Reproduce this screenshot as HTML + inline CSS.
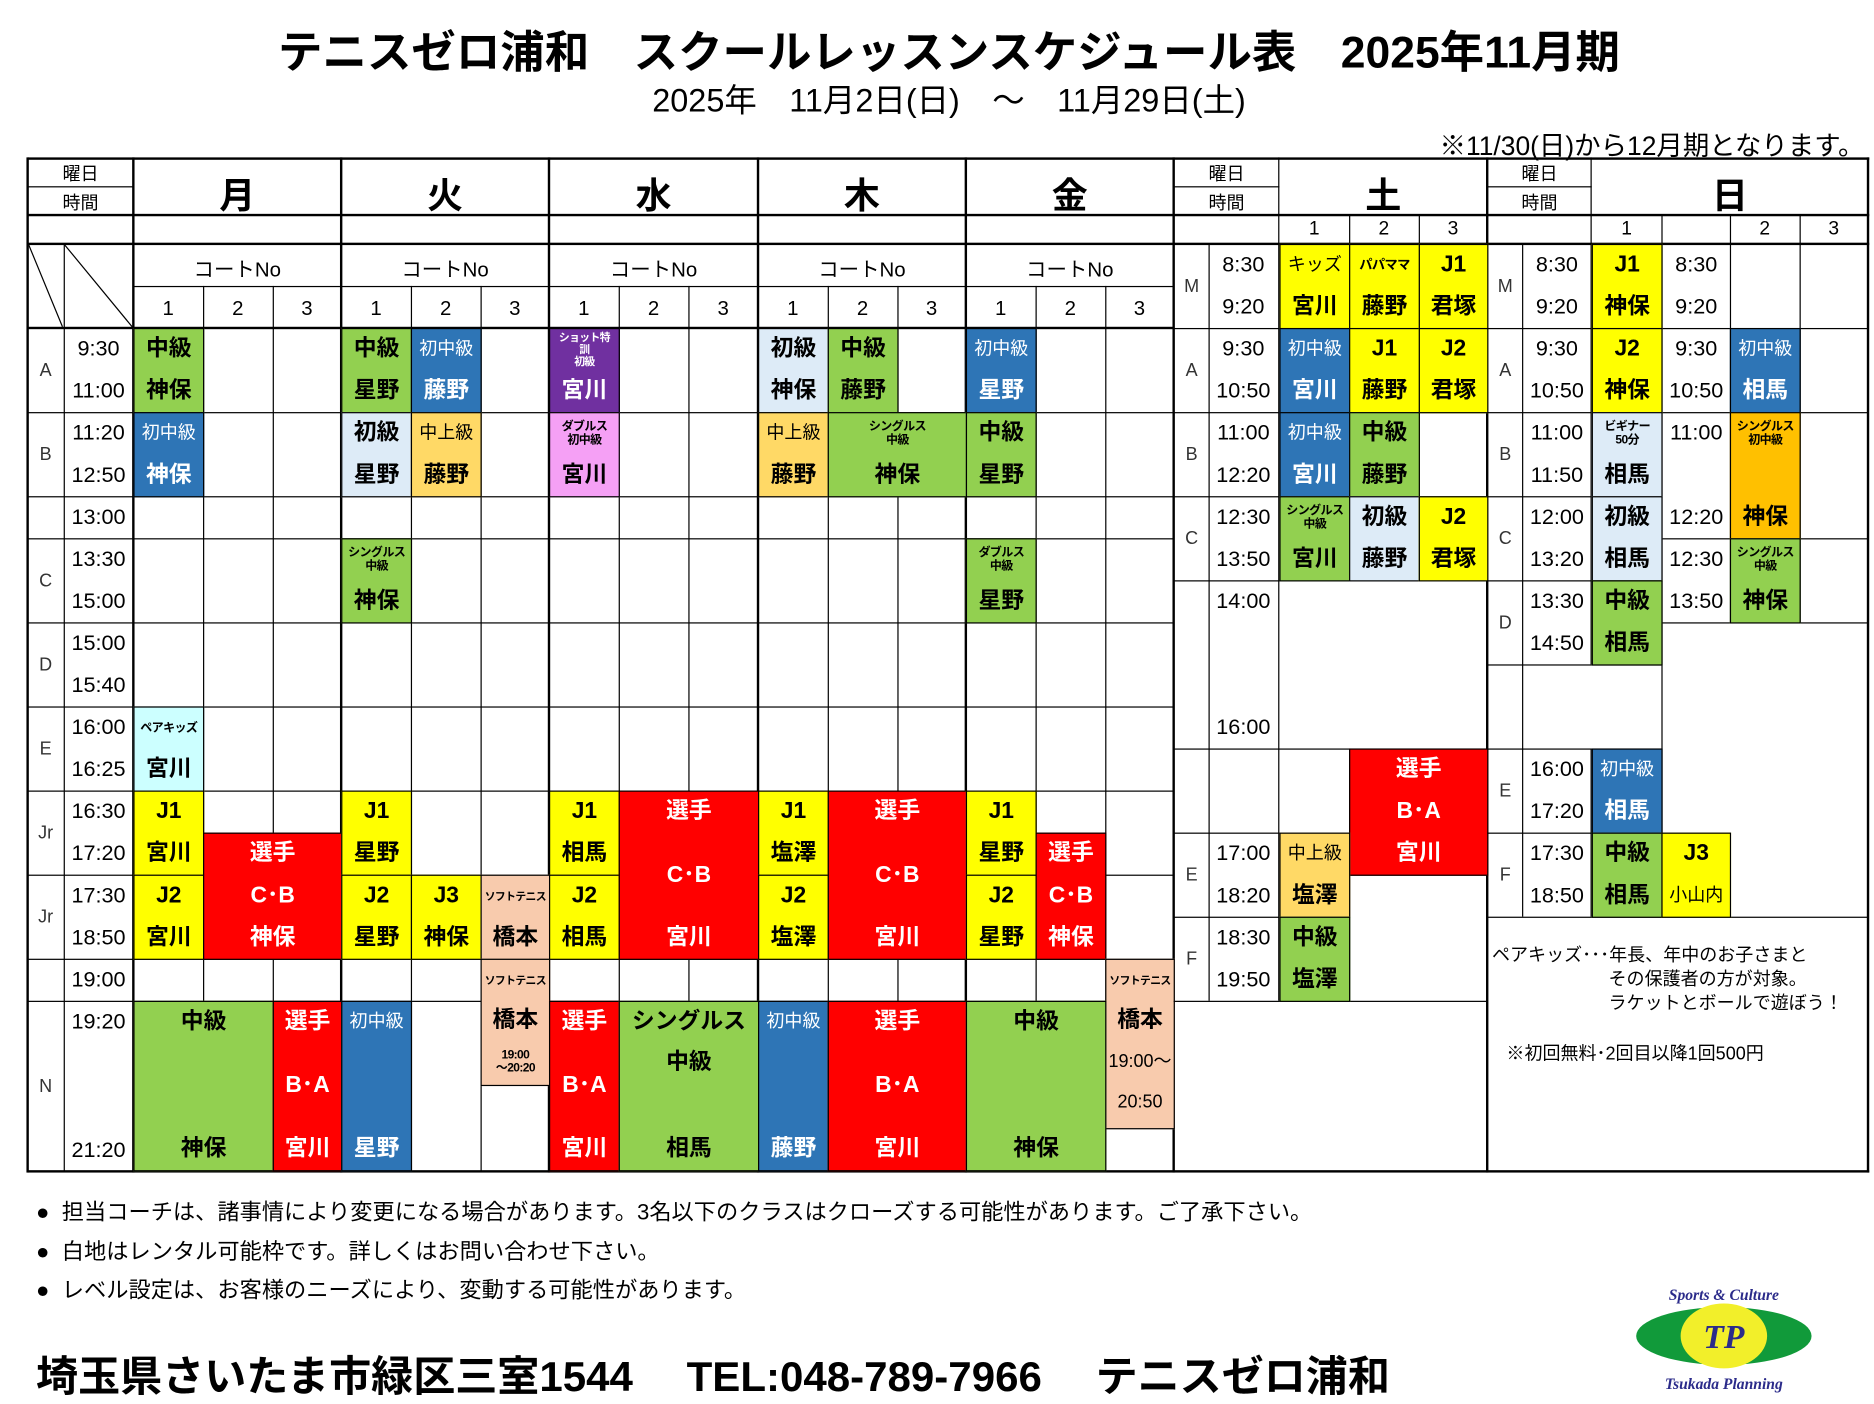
<!DOCTYPE html>
<html><head><meta charset="utf-8"><style>
*{margin:0;padding:0}
html,body{width:1874px;height:1390px;overflow:hidden;background:#fff}
#s{position:absolute;left:0;top:0;width:1560px;height:1157px;transform:scale(1.2013,1.2014);transform-origin:0 0;font-family:"Liberation Sans","Noto Sans CJK JP",sans-serif;color:#000}
.h{position:absolute;height:1px;background:#000}
.v{position:absolute;width:1px;background:#000}
.H{position:absolute;height:2px;background:#000}
.V{position:absolute;width:2px;background:#000}
.b{position:absolute;border:1px solid #000;box-sizing:border-box;display:flex;flex-direction:column;justify-content:space-between;align-items:center;font-weight:bold;font-size:19px;overflow:hidden}
.b p{height:34px;line-height:34px;white-space:nowrap}
.b p.s{font-size:10px;line-height:11px;display:flex;align-items:center;justify-content:center;text-align:center;font-weight:bold;letter-spacing:-0.5px}
.b p.m{font-size:15px;font-weight:normal}
.w{color:#fff}
.t{position:absolute;width:58px;height:35px;line-height:35px;text-align:center;font-size:18px}
.l{position:absolute;width:30px;text-align:center;font-size:15px;display:flex;align-items:center;justify-content:center;color:#333}
.x{position:absolute;text-align:center;white-space:nowrap}
</style></head><body><div id="s">

<div class="x" style="left:0;width:1580px;top:13px;font-size:37px;font-weight:bold;">テニスゼロ浦和　スクールレッスンスケジュール表　2025年11月期</div>
<div class="x" style="left:0;width:1580px;top:62px;font-size:27px;">2025年　11月2日(日)　～　11月29日(土)</div>
<div class="x" style="right:8px;top:104px;font-size:22px;">※11/30(日)から12月期となります。</div>

<!-- outer -->
<div class="H" style="left:23px;top:131px;width:1533px"></div>
<div class="H" style="left:23px;top:974px;width:1533px"></div>
<div class="V" style="left:22px;top:131px;height:845px"></div>
<div class="V" style="left:1554px;top:131px;height:845px"></div>
<div class="H" style="left:23px;top:178px;width:1533px"></div>
<div class="H" style="left:23px;top:202px;width:1533px"></div>
<div class="H" style="left:23px;top:272px;width:954px"></div>
<!-- day separators -->
<div class="V" style="left:110px;top:131px;height:845px"></div>
<div class="V" style="left:283px;top:131px;height:845px"></div>
<div class="V" style="left:456px;top:131px;height:845px"></div>
<div class="V" style="left:630px;top:131px;height:845px"></div>
<div class="V" style="left:803px;top:131px;height:845px"></div>
<div class="V" style="left:976px;top:131px;height:845px"></div>
<div class="V" style="left:1237px;top:131px;height:845px"></div>
<div class="v" style="left:1064px;top:131px;height:702px"></div>
<div class="v" style="left:1324px;top:131px;height:422px"></div>
<div class="v" style="left:1324px;top:623px;height:140px"></div>
<!-- 曜日 時間 -->
<div class="h" style="left:23px;top:155px;width:88px"></div>
<div class="h" style="left:977px;top:155px;width:88px"></div>
<div class="h" style="left:1238px;top:155px;width:87px"></div>
<div class="x" style="left:23px;width:88px;top:134px;font-size:15px">曜日</div>
<div class="x" style="left:23px;width:88px;top:158px;font-size:15px">時間</div>
<div class="x" style="left:977px;width:88px;top:134px;font-size:15px">曜日</div>
<div class="x" style="left:977px;width:88px;top:158px;font-size:15px">時間</div>
<div class="x" style="left:1238px;width:87px;top:134px;font-size:15px">曜日</div>
<div class="x" style="left:1238px;width:87px;top:158px;font-size:15px">時間</div>
<div class="x" style="left:111px;width:173px;top:138px;font-size:30px;font-weight:bold">月</div>
<div class="x" style="left:284px;width:173px;top:138px;font-size:30px;font-weight:bold">火</div>
<div class="x" style="left:457px;width:174px;top:138px;font-size:30px;font-weight:bold">水</div>
<div class="x" style="left:631px;width:173px;top:138px;font-size:30px;font-weight:bold">木</div>
<div class="x" style="left:804px;width:173px;top:138px;font-size:30px;font-weight:bold">金</div>
<div class="x" style="left:1065px;width:173px;top:138px;font-size:30px;font-weight:bold">土</div>
<div class="x" style="left:1325px;width:230px;top:138px;font-size:30px;font-weight:bold">日</div>

<!-- Mon-Fri header courts -->
<div class="h" style="left:111px;top:238px;width:866px"></div>
<div class="v" style="left:53px;top:203px;height:772px"></div>
<svg style="position:absolute;left:23px;top:203px" width="88" height="70"><line x1="1" y1="1" x2="29" y2="69" stroke="#000" stroke-width="1"/><line x1="31" y1="1" x2="87" y2="69" stroke="#000" stroke-width="1"/></svg>
<div class="x" style="left:111px;width:173px;top:210px;font-size:17px">コートNo</div>
<div class="x" style="left:284px;width:173px;top:210px;font-size:17px">コートNo</div>
<div class="x" style="left:457px;width:174px;top:210px;font-size:17px">コートNo</div>
<div class="x" style="left:631px;width:173px;top:210px;font-size:17px">コートNo</div>
<div class="x" style="left:804px;width:173px;top:210px;font-size:17px">コートNo</div>
<!-- court verticals -->
<div class="v" style="left:169px;top:238px;height:737px"></div>
<div class="v" style="left:227px;top:238px;height:737px"></div>
<div class="v" style="left:342px;top:238px;height:737px"></div>
<div class="v" style="left:400px;top:238px;height:737px"></div>
<div class="v" style="left:515px;top:238px;height:737px"></div>
<div class="v" style="left:573px;top:238px;height:737px"></div>
<div class="v" style="left:689px;top:238px;height:737px"></div>
<div class="v" style="left:747px;top:238px;height:737px"></div>
<div class="v" style="left:862px;top:238px;height:737px"></div>
<div class="v" style="left:920px;top:238px;height:737px"></div>
<div class="x" style="left:111px;width:58px;top:247px;font-size:17px">1</div>
<div class="x" style="left:169px;width:58px;top:247px;font-size:17px">2</div>
<div class="x" style="left:227px;width:57px;top:247px;font-size:17px">3</div>
<div class="x" style="left:284px;width:58px;top:247px;font-size:17px">1</div>
<div class="x" style="left:342px;width:58px;top:247px;font-size:17px">2</div>
<div class="x" style="left:400px;width:57px;top:247px;font-size:17px">3</div>
<div class="x" style="left:457px;width:58px;top:247px;font-size:17px">1</div>
<div class="x" style="left:515px;width:58px;top:247px;font-size:17px">2</div>
<div class="x" style="left:573px;width:58px;top:247px;font-size:17px">3</div>
<div class="x" style="left:631px;width:58px;top:247px;font-size:17px">1</div>
<div class="x" style="left:689px;width:58px;top:247px;font-size:17px">2</div>
<div class="x" style="left:747px;width:57px;top:247px;font-size:17px">3</div>
<div class="x" style="left:804px;width:58px;top:247px;font-size:17px">1</div>
<div class="x" style="left:862px;width:58px;top:247px;font-size:17px">2</div>
<div class="x" style="left:920px;width:57px;top:247px;font-size:17px">3</div>
<!-- Mon-Fri horizontals -->
<div class="h" style="left:23px;top:343px;width:954px"></div>
<div class="h" style="left:23px;top:413px;width:954px"></div>
<div class="h" style="left:23px;top:448px;width:954px"></div>
<div class="h" style="left:23px;top:518px;width:954px"></div>
<div class="h" style="left:23px;top:588px;width:954px"></div>
<div class="h" style="left:23px;top:658px;width:954px"></div>
<div class="h" style="left:23px;top:728px;width:954px"></div>
<div class="h" style="left:23px;top:798px;width:954px"></div>
<div class="h" style="left:23px;top:833px;width:954px"></div>

<!-- letters Mon-Fri -->
<div class="l" style="left:23px;top:273px;height:70px">A</div>
<div class="l" style="left:23px;top:343px;height:70px">B</div>
<div class="l" style="left:23px;top:448px;height:70px">C</div>
<div class="l" style="left:23px;top:518px;height:70px">D</div>
<div class="l" style="left:23px;top:588px;height:70px">E</div>
<div class="l" style="left:23px;top:658px;height:70px">Jr</div>
<div class="l" style="left:23px;top:728px;height:70px">Jr</div>
<div class="l" style="left:23px;top:833px;height:142px">N</div>
<!-- times Mon-Fri -->
<div class="t" style="left:53px;top:273px">9:30</div><div class="t" style="left:53px;top:308px">11:00</div>
<div class="t" style="left:53px;top:343px">11:20</div><div class="t" style="left:53px;top:378px">12:50</div>
<div class="t" style="left:53px;top:413px">13:00</div>
<div class="t" style="left:53px;top:448px">13:30</div><div class="t" style="left:53px;top:483px">15:00</div>
<div class="t" style="left:53px;top:518px">15:00</div><div class="t" style="left:53px;top:553px">15:40</div>
<div class="t" style="left:53px;top:588px">16:00</div><div class="t" style="left:53px;top:623px">16:25</div>
<div class="t" style="left:53px;top:658px">16:30</div><div class="t" style="left:53px;top:693px">17:20</div>
<div class="t" style="left:53px;top:728px">17:30</div><div class="t" style="left:53px;top:763px">18:50</div>
<div class="t" style="left:53px;top:798px">19:00</div>
<div class="t" style="left:53px;top:833px">19:20</div><div class="t" style="left:53px;top:940px">21:20</div>

<!-- Mon -->
<div class="b" style="left:111px;top:273px;width:59px;height:71px;background:#92d050"><p>中級</p><p>神保</p></div>
<div class="b w" style="left:111px;top:343px;width:59px;height:71px;background:#2e75b6"><p class="m">初中級</p><p>神保</p></div>
<div class="b" style="left:111px;top:588px;width:59px;height:71px;background:#ccffff"><p class="s">ペアキッズ</p><p>宮川</p></div>
<div class="b" style="left:111px;top:658px;width:59px;height:71px;background:#ffff00"><p>J1</p><p>宮川</p></div>
<div class="b" style="left:111px;top:728px;width:59px;height:71px;background:#ffff00"><p>J2</p><p>宮川</p></div>
<div class="b w" style="left:169px;top:693px;width:116px;height:106px;background:#ff0000"><p>選手</p><p>C･B</p><p>神保</p></div>
<div class="b" style="left:111px;top:833px;width:117px;height:142px;background:#92d050"><p>中級</p><p>神保</p></div>
<div class="b w" style="left:227px;top:833px;width:58px;height:142px;background:#ff0000"><p>選手</p><p>B･A</p><p>宮川</p></div>
<!-- Tue -->
<div class="b" style="left:284px;top:273px;width:59px;height:71px;background:#92d050"><p>中級</p><p>星野</p></div>
<div class="b w" style="left:342px;top:273px;width:59px;height:71px;background:#2e75b6"><p class="m">初中級</p><p>藤野</p></div>
<div class="b" style="left:284px;top:343px;width:59px;height:71px;background:#ddebf7"><p>初級</p><p>星野</p></div>
<div class="b" style="left:342px;top:343px;width:59px;height:71px;background:#ffd966"><p class="m">中上級</p><p>藤野</p></div>
<div class="b" style="left:284px;top:448px;width:59px;height:71px;background:#92d050"><p class="s">シングルス<br>中級</p><p>神保</p></div>
<div class="b" style="left:284px;top:658px;width:59px;height:71px;background:#ffff00"><p>J1</p><p>星野</p></div>
<div class="b" style="left:284px;top:728px;width:59px;height:71px;background:#ffff00"><p>J2</p><p>星野</p></div>
<div class="b" style="left:342px;top:728px;width:59px;height:71px;background:#ffff00"><p>J3</p><p>神保</p></div>
<div class="b" style="left:400px;top:728px;width:58px;height:71px;background:#f8cbad"><p class="s" style="font-size:9px">ソフトテニス</p><p>橋本</p></div>
<div class="b" style="left:400px;top:798px;width:58px;height:106px;background:#f8cbad;justify-content:flex-start"><p class="s" style="font-size:9px">ソフトテニス</p><p>橋本</p><p class="s">19:00<br>～20:20</p></div>
<div class="b w" style="left:284px;top:833px;width:59px;height:142px;background:#2e75b6"><p class="m">初中級</p><p>星野</p></div>
<!-- Wed -->
<div class="b w" style="left:457px;top:273px;width:59px;height:71px;background:#7030a0"><p class="s" style="font-size:9px;line-height:10px">ショット特<br>訓<br>初級</p><p>宮川</p></div>
<div class="b" style="left:457px;top:343px;width:59px;height:71px;background:#f5a0f5"><p class="s">ダブルス<br>初中級</p><p>宮川</p></div>
<div class="b" style="left:457px;top:658px;width:59px;height:71px;background:#ffff00"><p>J1</p><p>相馬</p></div>
<div class="b" style="left:457px;top:728px;width:59px;height:71px;background:#ffff00"><p>J2</p><p>相馬</p></div>
<div class="b w" style="left:515px;top:658px;width:117px;height:141px;background:#ff0000"><p>選手</p><p>C･B</p><p>宮川</p></div>
<div class="b w" style="left:457px;top:833px;width:59px;height:142px;background:#ff0000"><p>選手</p><p>B･A</p><p>宮川</p></div>
<div class="b" style="left:515px;top:833px;width:117px;height:142px;background:#92d050;justify-content:flex-start"><p>シングルス</p><p>中級</p><p style="margin-top:auto">相馬</p></div>
<!-- Thu -->
<div class="b" style="left:631px;top:273px;width:59px;height:71px;background:#ddebf7"><p>初級</p><p>神保</p></div>
<div class="b" style="left:689px;top:273px;width:59px;height:71px;background:#92d050"><p>中級</p><p>藤野</p></div>
<div class="b" style="left:631px;top:343px;width:59px;height:71px;background:#ffd966"><p class="m">中上級</p><p>藤野</p></div>
<div class="b" style="left:689px;top:343px;width:116px;height:71px;background:#92d050"><p class="s">シングルス<br>中級</p><p>神保</p></div>
<div class="b" style="left:631px;top:658px;width:59px;height:71px;background:#ffff00"><p>J1</p><p>塩澤</p></div>
<div class="b" style="left:631px;top:728px;width:59px;height:71px;background:#ffff00"><p>J2</p><p>塩澤</p></div>
<div class="b w" style="left:689px;top:658px;width:116px;height:141px;background:#ff0000"><p>選手</p><p>C･B</p><p>宮川</p></div>
<div class="b w" style="left:631px;top:833px;width:59px;height:142px;background:#2e75b6"><p class="m">初中級</p><p>藤野</p></div>
<div class="b w" style="left:689px;top:833px;width:116px;height:142px;background:#ff0000"><p>選手</p><p>B･A</p><p>宮川</p></div>
<!-- Fri -->
<div class="b w" style="left:804px;top:273px;width:59px;height:71px;background:#2e75b6"><p class="m">初中級</p><p>星野</p></div>
<div class="b" style="left:804px;top:343px;width:59px;height:71px;background:#92d050"><p>中級</p><p>星野</p></div>
<div class="b" style="left:804px;top:448px;width:59px;height:71px;background:#92d050"><p class="s">ダブルス<br>中級</p><p>星野</p></div>
<div class="b" style="left:804px;top:658px;width:59px;height:71px;background:#ffff00"><p>J1</p><p>星野</p></div>
<div class="b" style="left:804px;top:728px;width:59px;height:71px;background:#ffff00"><p>J2</p><p>星野</p></div>
<div class="b w" style="left:862px;top:693px;width:59px;height:106px;background:#ff0000"><p>選手</p><p>C･B</p><p>神保</p></div>
<div class="b" style="left:920px;top:798px;width:58px;height:142px;background:#f8cbad;justify-content:flex-start"><p class="s" style="font-size:9px">ソフトテニス</p><p>橋本</p><p class="m">19:00～</p><p class="m">20:50</p></div>
<div class="b" style="left:804px;top:833px;width:117px;height:142px;background:#92d050"><p>中級</p><p>神保</p></div>

<!-- Saturday grid -->
<div class="v" style="left:1006px;top:203px;height:630px"></div>
<div class="v" style="left:1123px;top:179px;height:304px"></div>
<div class="v" style="left:1123px;top:623px;height:210px"></div>
<div class="v" style="left:1181px;top:179px;height:304px"></div>
<div class="h" style="left:977px;top:273px;width:261px"></div>
<div class="h" style="left:977px;top:343px;width:261px"></div>
<div class="h" style="left:977px;top:413px;width:261px"></div>
<div class="h" style="left:977px;top:483px;width:261px"></div>
<div class="h" style="left:977px;top:623px;width:261px"></div>
<div class="h" style="left:977px;top:693px;width:146px"></div>
<div class="h" style="left:977px;top:763px;width:146px"></div>
<div class="h" style="left:977px;top:833px;width:261px"></div>
<div class="x" style="left:1065px;width:58px;top:182px;font-size:16px">1</div>
<div class="x" style="left:1123px;width:58px;top:182px;font-size:16px">2</div>
<div class="x" style="left:1181px;width:57px;top:182px;font-size:16px">3</div>
<div class="l" style="left:977px;top:203px;height:70px">M</div>
<div class="l" style="left:977px;top:273px;height:70px">A</div>
<div class="l" style="left:977px;top:343px;height:70px">B</div>
<div class="l" style="left:977px;top:413px;height:70px">C</div>
<div class="l" style="left:977px;top:693px;height:70px">E</div>
<div class="l" style="left:977px;top:763px;height:70px">F</div>
<div class="t" style="left:1006px;top:203px">8:30</div><div class="t" style="left:1006px;top:238px">9:20</div>
<div class="t" style="left:1006px;top:273px">9:30</div><div class="t" style="left:1006px;top:308px">10:50</div>
<div class="t" style="left:1006px;top:343px">11:00</div><div class="t" style="left:1006px;top:378px">12:20</div>
<div class="t" style="left:1006px;top:413px">12:30</div><div class="t" style="left:1006px;top:448px">13:50</div>
<div class="t" style="left:1006px;top:483px">14:00</div><div class="t" style="left:1006px;top:588px">16:00</div>
<div class="t" style="left:1006px;top:693px">17:00</div><div class="t" style="left:1006px;top:728px">18:20</div>
<div class="t" style="left:1006px;top:763px">18:30</div><div class="t" style="left:1006px;top:798px">19:50</div>
<div class="b" style="left:1065px;top:203px;width:59px;height:71px;background:#ffff00"><p class="m">キッズ</p><p>宮川</p></div>
<div class="b" style="left:1123px;top:203px;width:59px;height:71px;background:#ffff00"><p class="s" style="font-size:11px">パパママ</p><p>藤野</p></div>
<div class="b" style="left:1181px;top:203px;width:58px;height:71px;background:#ffff00"><p>J1</p><p>君塚</p></div>
<div class="b w" style="left:1065px;top:273px;width:59px;height:71px;background:#2e75b6"><p class="m">初中級</p><p>宮川</p></div>
<div class="b" style="left:1123px;top:273px;width:59px;height:71px;background:#ffff00"><p>J1</p><p>藤野</p></div>
<div class="b" style="left:1181px;top:273px;width:58px;height:71px;background:#ffff00"><p>J2</p><p>君塚</p></div>
<div class="b w" style="left:1065px;top:343px;width:59px;height:71px;background:#2e75b6"><p class="m">初中級</p><p>宮川</p></div>
<div class="b" style="left:1123px;top:343px;width:59px;height:71px;background:#92d050"><p>中級</p><p>藤野</p></div>
<div class="b" style="left:1065px;top:413px;width:59px;height:71px;background:#92d050"><p class="s">シングルス<br>中級</p><p>宮川</p></div>
<div class="b" style="left:1123px;top:413px;width:59px;height:71px;background:#ddebf7"><p>初級</p><p>藤野</p></div>
<div class="b" style="left:1181px;top:413px;width:58px;height:71px;background:#ffff00"><p>J2</p><p>君塚</p></div>
<div class="b w" style="left:1123px;top:623px;width:116px;height:106px;background:#ff0000"><p>選手</p><p>B･A</p><p>宮川</p></div>
<div class="b" style="left:1065px;top:693px;width:59px;height:71px;background:#ffd966"><p class="m">中上級</p><p>塩澤</p></div>
<div class="b" style="left:1065px;top:763px;width:59px;height:71px;background:#92d050"><p>中級</p><p>塩澤</p></div>

<!-- Sunday grid -->
<div class="v" style="left:1267px;top:203px;height:560px"></div>
<div class="v" style="left:1383px;top:179px;height:584px"></div>
<div class="v" style="left:1440px;top:179px;height:339px"></div>
<div class="v" style="left:1498px;top:179px;height:339px"></div>
<div class="h" style="left:1238px;top:273px;width:317px"></div>
<div class="h" style="left:1238px;top:343px;width:317px"></div>
<div class="h" style="left:1238px;top:413px;width:145px"></div>
<div class="h" style="left:1383px;top:448px;width:172px"></div>
<div class="h" style="left:1238px;top:483px;width:145px"></div>
<div class="h" style="left:1383px;top:518px;width:172px"></div>
<div class="h" style="left:1238px;top:553px;width:145px"></div>
<div class="h" style="left:1238px;top:623px;width:145px"></div>
<div class="h" style="left:1238px;top:693px;width:145px"></div>
<div class="h" style="left:1238px;top:763px;width:317px"></div>
<div class="x" style="left:1325px;width:58px;top:182px;font-size:16px">1</div>
<div class="x" style="left:1440px;width:58px;top:182px;font-size:16px">2</div>
<div class="x" style="left:1498px;width:57px;top:182px;font-size:16px">3</div>
<div class="l" style="left:1238px;top:203px;height:70px">M</div>
<div class="l" style="left:1238px;top:273px;height:70px">A</div>
<div class="l" style="left:1238px;top:343px;height:70px">B</div>
<div class="l" style="left:1238px;top:413px;height:70px">C</div>
<div class="l" style="left:1238px;top:483px;height:70px">D</div>
<div class="l" style="left:1238px;top:623px;height:70px">E</div>
<div class="l" style="left:1238px;top:693px;height:70px">F</div>
<div class="t" style="left:1267px;top:203px">8:30</div><div class="t" style="left:1267px;top:238px">9:20</div>
<div class="t" style="left:1267px;top:273px">9:30</div><div class="t" style="left:1267px;top:308px">10:50</div>
<div class="t" style="left:1267px;top:343px">11:00</div><div class="t" style="left:1267px;top:378px">11:50</div>
<div class="t" style="left:1267px;top:413px">12:00</div><div class="t" style="left:1267px;top:448px">13:20</div>
<div class="t" style="left:1267px;top:483px">13:30</div><div class="t" style="left:1267px;top:518px">14:50</div>
<div class="t" style="left:1267px;top:623px">16:00</div><div class="t" style="left:1267px;top:658px">17:20</div>
<div class="t" style="left:1267px;top:693px">17:30</div><div class="t" style="left:1267px;top:728px">18:50</div>
<div class="t" style="left:1383px;top:203px">8:30</div><div class="t" style="left:1383px;top:238px">9:20</div>
<div class="t" style="left:1383px;top:273px">9:30</div><div class="t" style="left:1383px;top:308px">10:50</div>
<div class="t" style="left:1383px;top:343px">11:00</div><div class="t" style="left:1383px;top:413px">12:20</div>
<div class="t" style="left:1383px;top:448px">12:30</div><div class="t" style="left:1383px;top:483px">13:50</div>
<div class="b" style="left:1325px;top:203px;width:59px;height:71px;background:#ffff00"><p>J1</p><p>神保</p></div>
<div class="b" style="left:1325px;top:273px;width:59px;height:71px;background:#ffff00"><p>J2</p><p>神保</p></div>
<div class="b w" style="left:1440px;top:273px;width:59px;height:71px;background:#2e75b6"><p class="m">初中級</p><p>相馬</p></div>
<div class="b" style="left:1325px;top:343px;width:59px;height:71px;background:#ddebf7"><p class="s">ビギナー<br>50分</p><p>相馬</p></div>
<div class="b" style="left:1440px;top:343px;width:59px;height:106px;background:#ffc000"><p class="s">シングルス<br>初中級</p><p>神保</p></div>
<div class="b" style="left:1325px;top:413px;width:59px;height:71px;background:#ddebf7"><p>初級</p><p>相馬</p></div>
<div class="b" style="left:1440px;top:448px;width:59px;height:71px;background:#92d050"><p class="s">シングルス<br>中級</p><p>神保</p></div>
<div class="b" style="left:1325px;top:483px;width:59px;height:71px;background:#92d050"><p>中級</p><p>相馬</p></div>
<div class="b w" style="left:1325px;top:623px;width:59px;height:71px;background:#2e75b6"><p class="m">初中級</p><p>相馬</p></div>
<div class="b" style="left:1325px;top:693px;width:59px;height:71px;background:#92d050"><p>中級</p><p>相馬</p></div>
<div class="b" style="left:1383px;top:693px;width:58px;height:71px;background:#ffff00"><p>J3</p><p class="m">小山内</p></div>

<div style="position:absolute;left:1242px;top:786px;font-size:15px;line-height:20px;white-space:nowrap">ペアキッズ･･･年長、年中のお子さまと<br><span style="padding-left:97px">その保護者の方が対象。</span><br><span style="padding-left:97px">ラケットとボールで遊ぼう！</span></div>
<div style="position:absolute;left:1254px;top:866px;font-size:15px;white-space:nowrap">※初回無料･2回目以降1回500円</div>

<div style="position:absolute;left:30px;top:993px;font-size:18.5px;line-height:32.5px;white-space:nowrap">●&nbsp; 担当コーチは、諸事情により変更になる場合があります。3名以下のクラスはクローズする可能性があります。ご了承下さい。<br>●&nbsp; 白地はレンタル可能枠です。詳しくはお問い合わせ下さい。<br>●&nbsp; レベル設定は、お客様のニーズにより、変動する可能性があります。</div>
<div style="position:absolute;left:30px;top:1118px;font-size:35px;font-weight:bold;white-space:nowrap">埼玉県さいたま市緑区三室1544　 TEL:048-789-7966　 テニスゼロ浦和</div>

<svg style="position:absolute;left:1355px;top:1066px" width="160" height="94">
<text x="80" y="16" text-anchor="middle" font-family="Liberation Serif,serif" font-style="italic" font-weight="bold" font-size="13" fill="#2b2b8a">Sports &amp; Culture</text>
<ellipse cx="80" cy="46" rx="73" ry="24" fill="#119a3a"/>
<ellipse cx="80" cy="46" rx="36" ry="27" fill="#f2ef2a"/>
<text x="80" y="56" text-anchor="middle" font-family="Liberation Serif,serif" font-style="italic" font-weight="bold" font-size="28" fill="#2b2b8a">TP</text>
<text x="80" y="90" text-anchor="middle" font-family="Liberation Serif,serif" font-style="italic" font-weight="bold" font-size="13" fill="#2b2b8a">Tsukada Planning</text>
</svg>
</div></body></html>
